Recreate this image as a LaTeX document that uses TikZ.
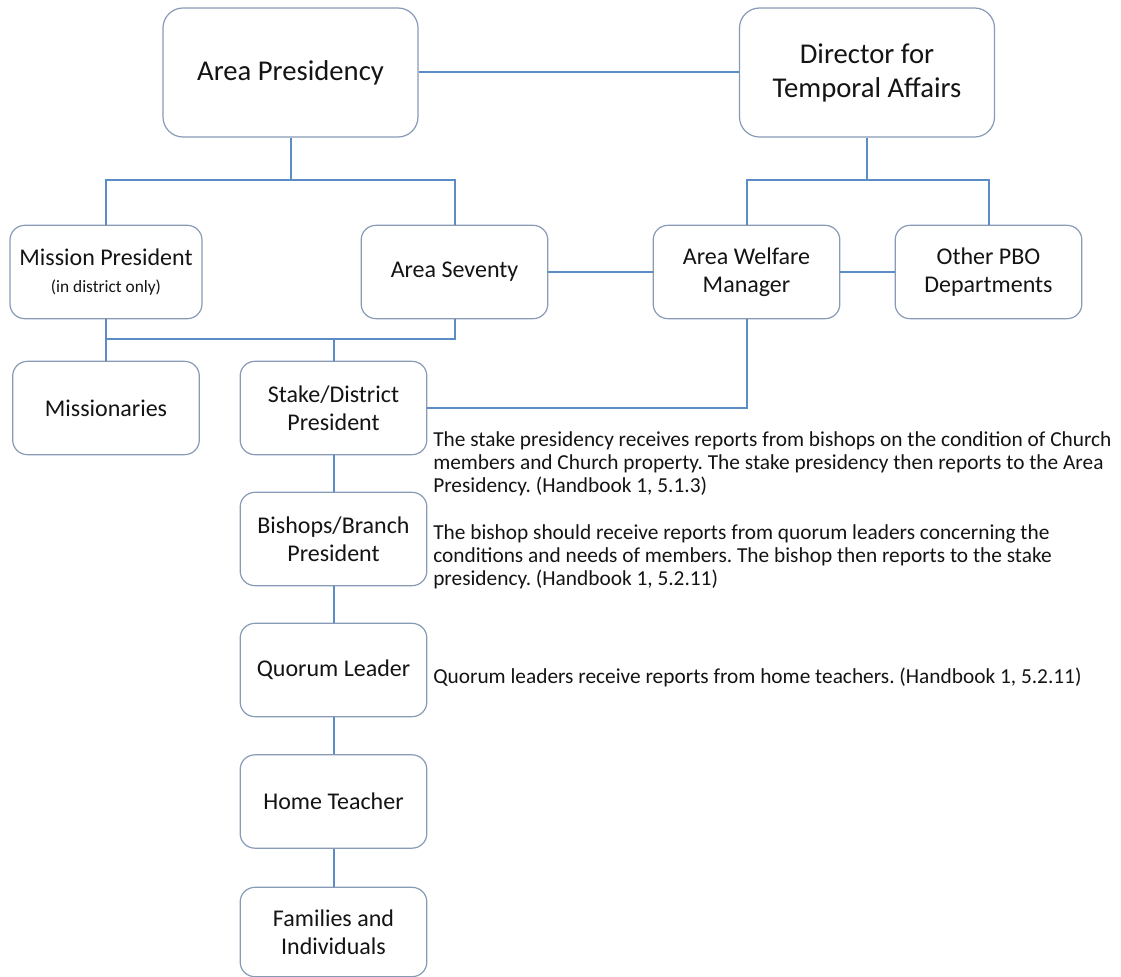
\documentclass[tikz,border=0pt]{standalone}
\usepackage{fontspec}
\setmainfont{Carlito}
\frenchspacing
\definecolor{boxline}{RGB}{135,155,182}
\definecolor{conn}{RGB}{92,140,198}
\definecolor{txt}{RGB}{20,20,20}
\begin{document}
\begin{tikzpicture}[x=0.75pt,y=-0.75pt,
  box/.style={draw=boxline, line width=0.9pt, rounded corners=11pt, fill=white, text=txt,
    minimum width=140pt, minimum height=70pt, align=center, inner sep=2pt,
    font=\fontsize{18}{21}\selectfont},
  bigbox/.style={box, rounded corners=15pt, minimum width=191.25pt, minimum height=96.75pt,
    font=\fontsize{21.5}{25.5}\selectfont},
  link/.style={draw=conn, line width=1.5pt},
  para/.style={anchor=north west, align=left, inner sep=0pt, text=txt,
    font=\fontsize{16}{17.25}\selectfont}
]
\useasboundingbox (0,0) rectangle (1121,977);

% nodes
\node[bigbox] (AP) at (290.5,72.5) {Area Presidency};
\node[bigbox] (DTA) at (867,72.5) {Director for\\Temporal Affairs};
\node[box, minimum width=144pt] (MP) at (106,272) {Mission President\\[-1pt]{\fontsize{13}{16}\selectfont (in district only)}};
\node[box] (AS) at (454.5,272) {Area Seventy};
\node[box] (AWM) at (746.5,272) {Area Welfare\\Manager};
\node[box] (OPBO) at (988.5,272) {Other PBO\\Departments};
\node[box] (MIS) at (106,408) {Missionaries};
\node[box] (SDP) at (333.5,408) {Stake/District\\President};
\node[box] (BBP) at (333.5,539) {Bishops/Branch\\President};
\node[box] (QL) at (333.5,670) {Quorum Leader};
\node[box] (HT) at (333.5,801.5) {Home Teacher};
\node[box, minimum height=67pt] (FI) at (333.5,932) {Families and\\Individuals};

% junctions
\coordinate (j1) at (290.5,180);
\coordinate (j2) at (867,180);
\coordinate (j3) at (333.5,339);

% connectors
\draw[link] (AP.east) -- (DTA.west);
\draw[link] (AP.south) -- (j1);
\draw[link] (MP.north) |- (j1) -| (AS.north);
\draw[link] (DTA.south) -- (j2);
\draw[link] (AWM.north) |- (j2) -| (OPBO.north);
\draw[link] (AS.east) -- (AWM.west);
\draw[link] (AWM.east) -- (OPBO.west);
\draw[link] (MP.south) |- (j3) -| (AS.south);
\draw[link] (MP.south) -- (MIS.north);
\draw[link] (j3) -- (SDP.north);
\draw[link] (AWM.south) |- (SDP.east);
\draw[link] (SDP.south) -- (BBP.north);
\draw[link] (BBP.south) -- (QL.north);
\draw[link] (QL.south) -- (HT.north);
\draw[link] (HT.south) -- (FI.north);

% texts
\node[para] (T1) at (433,431) {The stake presidency receives reports from bishops on the condition of Church\\members and Church property. The stake presidency then reports to the Area\\Presidency. (Handbook 1, 5.1.3)};
\node[para] (T2) at (433,524) {The bishop should receive reports from quorum leaders concerning the\\conditions and needs of members. The bishop then reports to the stake\\presidency. (Handbook 1, 5.2.11)};
\node[para, anchor=west] (T3) at (433,677) {Quorum leaders receive reports from home teachers. (Handbook 1, 5.2.11)};
\end{tikzpicture}
\end{document}
